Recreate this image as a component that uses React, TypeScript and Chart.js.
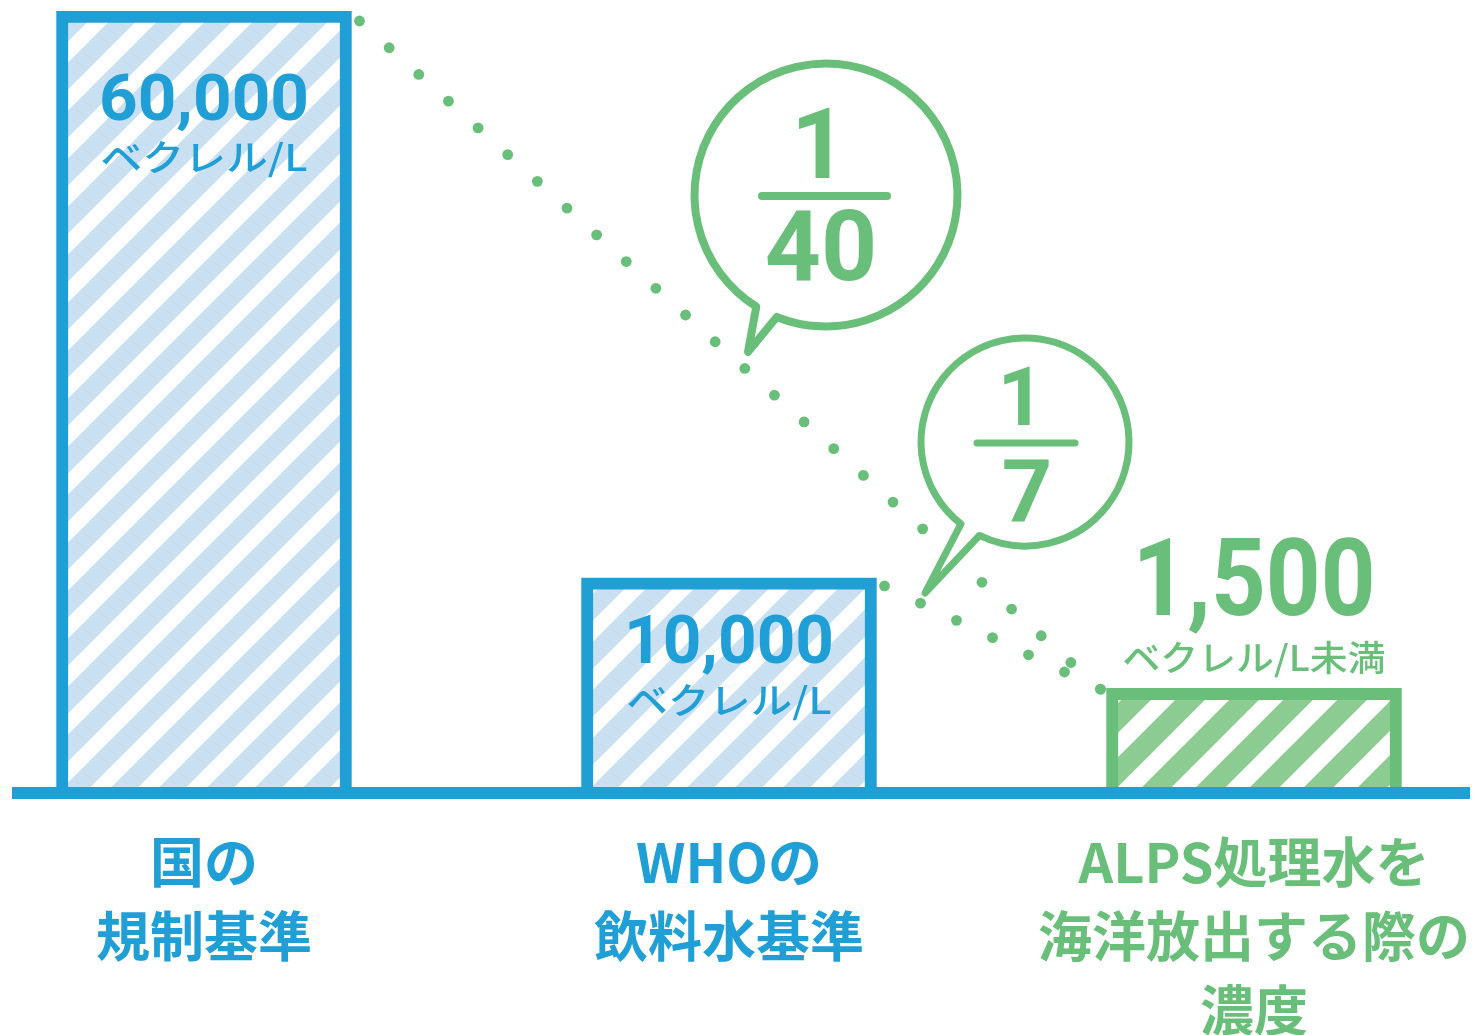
import React, { useEffect, useRef } from "react";
import { Chart, registerables } from "chart.js";

Chart.register(...registerables);

// ---------------- data ----------------
const categories: string[][] = [
  ["国の", "規制基準"],
  ["WHOの", "飲料水基準"],
  ["ALPS処理水を", "海洋放出する際の", "濃度"],
];
const concentrations = [60000, 10000, 1500]; // ベクレル/L
const valueLabels = ["60,000", "10,000", "1,500"];
const unitLabels = ["ベクレル/L", "ベクレル/L", "ベクレル/L未満"];
// heights of the bars as drawn in the illustration (not to scale), % of tallest
const drawnHeights = [100, 27.5, 13.4];
const ratioNumerators = ["1", "1"];
const ratioDenominators = ["40", "7"];

// ---------------- styles ----------------
const BLUE = "#209ed6";
const LIGHT_BLUE = "#c9e0f2";
const GREEN = "#69bf7a";
const LIGHT_GREEN = "#8ccb92";
const barColors = [BLUE, BLUE, GREEN];
const NUM_FONT = "Roboto, 'DejaVu Sans', sans-serif";
const JP_FONT = "'Noto Sans CJK JP', 'Noto Sans', sans-serif";

const labelStyles = [
  { numDy: 109, numSize: 64, numW: 210, unitDy: 146, unitSize: 36, unitW: 207 },
  { numDy: 85, numSize: 66, numW: 210, unitDy: 122, unitSize: 36, unitW: 205 },
  { numDy: -73, numSize: 108, numW: 243, unitDy: -31, unitSize: 35, unitW: 263 },
];

const bubbleStyles = [
  {
    cx: 826, cy: 195, r: 131.5, a1: 122, a2: 112, tip: [748, 352], lw: 8,
    num: { x: 819, y: 178, size: 98 }, den: { x: 821, y: 280, size: 98 },
    bar: { x1: 762, x2: 887, y: 196, w: 8 },
  },
  {
    cx: 1025, cy: 442, r: 104, a1: 128, a2: 116, tip: [925, 593], lw: 7,
    num: { x: 1021, y: 425, size: 82 }, den: { x: 1027, y: 522, size: 88 },
    bar: { x1: 977, x2: 1075, y: 443, w: 7 },
  },
];

function stripes(light: string, period: number, band: number) {
  const c = document.createElement("canvas");
  c.width = period;
  c.height = period;
  const g = c.getContext("2d")!;
  g.fillStyle = "#ffffff";
  g.fillRect(0, 0, period, period);
  g.strokeStyle = light;
  g.lineWidth = band;
  for (const k of [0, period, 2 * period]) {
    g.beginPath();
    g.moveTo(k - 2 * period, 2 * period);
    g.lineTo(k + 2 * period, -2 * period);
    g.stroke();
  }
  return g.createPattern(c, "repeat")!;
}

function drawFit(
  ctx: CanvasRenderingContext2D,
  text: string,
  cx: number,
  y: number,
  font: string,
  width: number | null,
  baseline: CanvasTextBaseline
) {
  ctx.save();
  ctx.font = font;
  ctx.textAlign = "center";
  ctx.textBaseline = baseline;
  const m = ctx.measureText(text).width;
  const s = width ? width / m : 1;
  ctx.translate(cx, y);
  ctx.scale(s, 1);
  ctx.fillText(text, 0, 0);
  ctx.restore();
}

function dotted(ctx: CanvasRenderingContext2D, x1: number, y1: number, x2: number, y2: number) {
  const len = Math.hypot(x2 - x1, y2 - y1);
  const n = Math.max(1, Math.round(len / 40));
  ctx.fillStyle = GREEN;
  for (let i = 0; i <= n; i++) {
    const t = i / n;
    ctx.beginPath();
    ctx.arc(x1 + (x2 - x1) * t, y1 + (y2 - y1) * t, 5.4, 0, Math.PI * 2);
    ctx.fill();
  }
}

const overlayPlugin = {
  id: "overlay",
  afterDatasetsDraw(chart: any) {
    const ctx: CanvasRenderingContext2D = chart.ctx;
    const { left, right } = chart.chartArea;
    const y0 = chart.scales.y.getPixelForValue(0);
    const els = chart.getDatasetMeta(0).data;
    const b = els.map((el: any) => ({
      x: el.x,
      t: el.y,
      l: el.x - el.width / 2,
      r: el.x + el.width / 2,
    }));

    ctx.save();
    // baseline
    ctx.fillStyle = BLUE;
    ctx.fillRect(left, y0 - 6, right - left, 12);

    // connector dots
    dotted(ctx, b[0].r + 8, b[0].t + 10, b[2].l - 6, b[2].t + 1);
    dotted(ctx, b[1].r + 8, b[1].t + 8, b[2].l - 6, b[2].t + 1);

    // value labels
    b.forEach((bar: any, i: number) => {
      const st = labelStyles[i];
      ctx.fillStyle = barColors[i];
      drawFit(ctx, valueLabels[i], bar.x, bar.t + st.numDy, `700 ${st.numSize}px ${NUM_FONT}`, st.numW, "alphabetic");
      drawFit(ctx, unitLabels[i], bar.x, bar.t + st.unitDy, `500 ${st.unitSize}px ${JP_FONT}`, st.unitW, "middle");
    });

    // ratio bubbles
    bubbleStyles.forEach((bs, i) => {
      ctx.beginPath();
      ctx.arc(bs.cx, bs.cy, bs.r, (bs.a1 * Math.PI) / 180, (bs.a2 * Math.PI) / 180 + Math.PI * 2, false);
      ctx.lineTo(bs.tip[0], bs.tip[1]);
      ctx.closePath();
      ctx.fillStyle = "#ffffff";
      ctx.fill();
      ctx.strokeStyle = GREEN;
      ctx.lineWidth = bs.lw;
      ctx.lineJoin = "round";
      ctx.stroke();

      ctx.beginPath();
      ctx.lineCap = "round";
      ctx.lineWidth = bs.bar.w;
      ctx.moveTo(bs.bar.x1, bs.bar.y);
      ctx.lineTo(bs.bar.x2, bs.bar.y);
      ctx.stroke();

      ctx.fillStyle = GREEN;
      drawFit(ctx, ratioNumerators[i], bs.num.x, bs.num.y, `700 ${bs.num.size}px ${NUM_FONT}`, null, "alphabetic");
      drawFit(ctx, ratioDenominators[i], bs.den.x, bs.den.y, `700 ${bs.den.size}px ${NUM_FONT}`, null, "alphabetic");
    });
    ctx.restore();
  },
};

export default function App() {
  const canvasRef = useRef<HTMLCanvasElement | null>(null);

  useEffect(() => {
    if (!canvasRef.current) return;
    const bluePattern = stripes(LIGHT_BLUE, 48, 19);
    const greenPattern = stripes(LIGHT_GREEN, 54, 21);

    const chart = new Chart(canvasRef.current, {
      type: "bar",
      data: {
        datasets: [
          {
            label: "濃度",
            data: categories.map((_, i) => ({ x: i, y: drawnHeights[i], v: concentrations[i] })) as any,
            backgroundColor: [bluePattern, bluePattern, greenPattern],
            borderColor: barColors,
            borderWidth: 12,
            borderSkipped: "bottom",
            barThickness: 295,
          },
        ],
      },
      options: {
        responsive: false,
        animation: false,
        devicePixelRatio: 1,
        layout: { padding: { top: 11, left: 12, right: 11, bottom: 0 } },
        plugins: { legend: { display: false }, tooltip: { enabled: false } },
        scales: {
          x: {
            type: "linear",
            min: -192 / 525,
            max: 2 + 216 / 525,
            offset: false,
            grid: { display: false, drawTicks: true, tickLength: 32 },
            border: { display: false },
            afterBuildTicks: (scale: any) => {
              scale.ticks = categories.map((_, i) => ({ value: i }));
            },
            afterFit: (scale: any) => {
              scale.height = 242;
              scale.paddingLeft = 0;
              scale.paddingRight = 0;
            },
            ticks: {
              autoSkip: false,
              maxRotation: 0,
              minRotation: 0,
              padding: 0,
              color: (ctx: any) => barColors[ctx.index] ?? BLUE,
              font: { family: JP_FONT, size: 54, weight: "bold", lineHeight: "74px" } as any,
              callback: (value: any) => categories[Math.round(Number(value))] ?? "",
            },
          },
          y: {
            display: false,
            min: 0,
            max: 100,
          },
        },
      },
      plugins: [overlayPlugin],
    });
    return () => chart.destroy();
  }, []);

  return (
    <div style={{ position: "absolute", left: 0, top: 0, width: 1481, height: 1035, background: "#fff" }}>
      <canvas ref={canvasRef} width={1481} height={1035} style={{ width: 1481, height: 1035, display: "block" }} />
    </div>
  );
}
